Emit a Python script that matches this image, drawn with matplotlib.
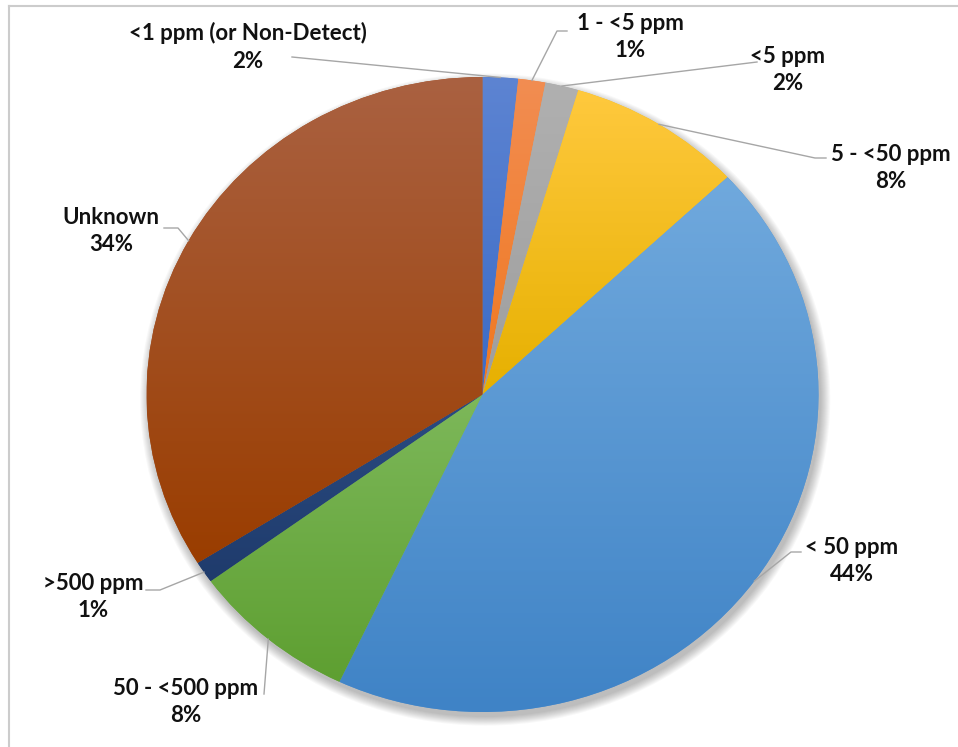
import numpy as np
import matplotlib
matplotlib.use('Agg')
import matplotlib.pyplot as plt
from matplotlib.patches import Ellipse
from matplotlib.lines import Line2D
from matplotlib.colors import to_rgb

# ---- data ----
categories = ['<1 ppm (or Non-Detect)', '1 - <5 ppm', '<5 ppm', '5 - <50 ppm',
              '< 50 ppm', '50 - <500 ppm', '>500 ppm', 'Unknown']
values = [1.7, 1.3, 1.6, 8.4, 44.0, 8.0, 1.1, 33.9]

# gradient colours (top, bottom) per slice
colors_top = ['#5d84d2', '#f28d52', '#b0b0b0', '#ffc93e', '#70a9dd', '#7db85a', '#2b4c82', '#aa6141']
colors_bot = ['#3b6bc6', '#f0781f', '#9e9e9e', '#e6b000', '#3f83c6', '#5e9f31', '#1f3b6c', '#9a3d00']

# ---- layout (pixels) ----
W, H = 958, 747
cx, cy, rx, ry = 482.5, 394.5, 336, 317.5

# text centres and leader start/elbow points (pixels)
label_layout = [
    dict(text=(248, 47), leader=[(292, 57)]),
    dict(text=(630, 37), leader=[(567, 31), (557, 31)]),
    dict(text=(788, 70), leader=[(757, 62)]),
    dict(text=(891, 168), leader=[(826, 158), (815, 158)]),
    dict(text=(852, 561), leader=[(801, 552), (791, 552)]),
    dict(text=(186, 702), leader=[(264, 694)]),
    dict(text=(93, 597), leader=[(146, 590), (160, 590)]),
    dict(text=(111, 231), leader=[(164, 228), (178, 228)]),
]


def px2d(p):
    return ((p[0] - cx) / rx, (cy - p[1]) / ry)


fig = plt.figure(figsize=(W / 100, H / 100), dpi=100)
fig.patch.set_facecolor('white')
ax = fig.add_axes([(cx - rx) / W, (H - (cy + ry)) / H, 2 * rx / W, 2 * ry / H])

# soft drop shadow
for k in range(10):
    e = Ellipse((0.008, -0.016), 2 + k * 0.006, 2 + k * 0.006,
                facecolor='black', edgecolor='none', alpha=0.028, zorder=0, clip_on=False)
    ax.add_patch(e)

mid_cols = [tuple((np.array(to_rgb(a)) + np.array(to_rgb(b))) / 2) for a, b in zip(colors_top, colors_bot)]
wedges, _ = ax.pie(values, startangle=90, counterclock=False, radius=1,
                   colors=mid_cols, wedgeprops=dict(linewidth=0))

# gradient fill clipped to each wedge
for w, ct, cb in zip(wedges, colors_top, colors_bot):
    w.set_zorder(1)
    bb = w.get_path().get_extents(w.get_patch_transform())
    t = np.linspace(0, 1, 256)[:, None, None]
    img = (1 - t) * np.array(to_rgb(ct))[None, None, :] + t * np.array(to_rgb(cb))[None, None, :]
    im = ax.imshow(img, extent=(bb.x0, bb.x1, bb.y0, bb.y1), origin='upper',
                   aspect='auto', zorder=2, interpolation='bilinear')
    im.set_clip_path(w)

ax.set_aspect('auto')
ax.set_xlim(-1, 1)
ax.set_ylim(-1, 1)
ax.axis('off')

total = sum(values)
for w, cat, v, lay in zip(wedges, categories, values, label_layout):
    th = np.deg2rad((w.theta1 + w.theta2) / 2)
    anchor = (np.cos(th), np.sin(th))
    pts = [px2d(p) for p in lay['leader']] + [anchor]
    xs, ys = zip(*pts)
    ax.plot(xs, ys, color='#a6a6a6', lw=1.0, clip_on=False, zorder=5)
    tx, ty = px2d(lay['text'])
    ax.text(tx, ty, f"{cat}\n{round(v / total * 100)}%", ha='center', va='center',
            fontsize=16, fontweight='bold', family=['Lato', 'DejaVu Sans'],
            linespacing=1.4, color='#111111', clip_on=False, zorder=6)

# frame lines (top and left)
fig.add_artist(Line2D([9 / W, 1], [1 - 6 / H, 1 - 6 / H], color='#cccccc', lw=1.5))
fig.add_artist(Line2D([9 / W, 9 / W], [0, 1 - 6 / H], color='#cccccc', lw=1.5))

fig.savefig('out.png', dpi=100, facecolor='white')
